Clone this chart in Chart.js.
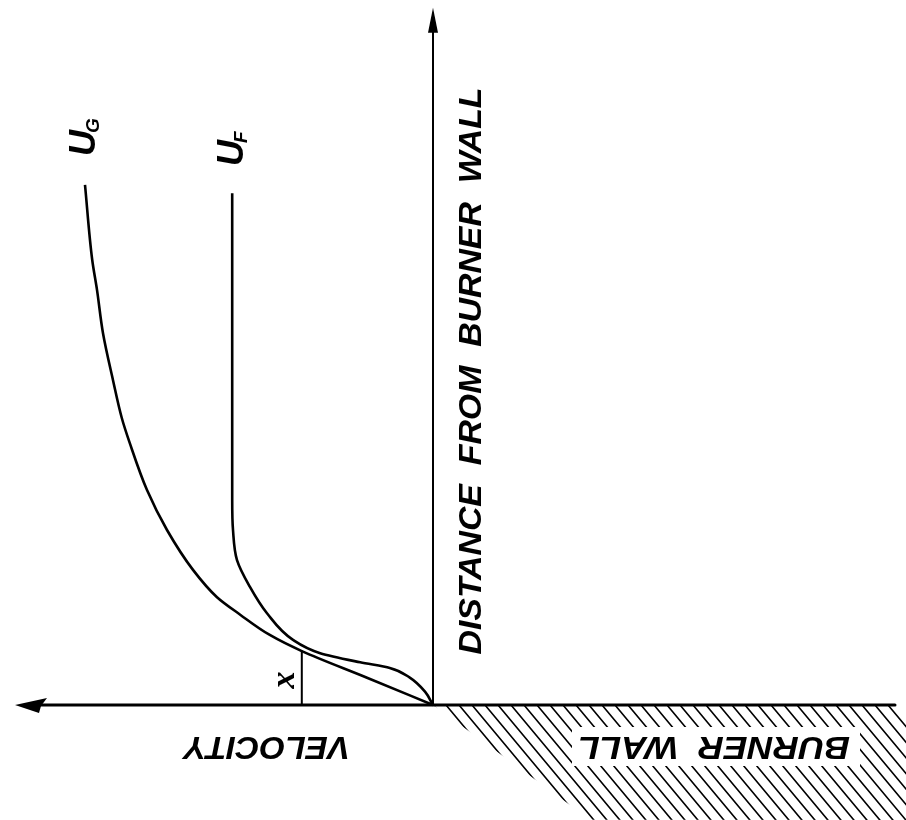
<!DOCTYPE html>
<html>
<head>
<meta charset="utf-8">
<script src="https://cdn.jsdelivr.net/npm/chart.js@4/dist/chart.umd.min.js"></script>
<style>
html, body { margin: 0; padding: 0; background: #fff; }
#wrap { width: 906px; height: 820px; }
</style>
</head>
<body>
<div id="wrap"><canvas id="c"></canvas></div>
<script>
// velocity is measured to the left of the wall, distance upward from it (arbitrary units)
var ugVel  = [8.70, 8.52, 8.40, 8.25, 8.00, 7.78, 7.58, 7.15, 6.65, 6.00, 5.40, 4.82, 4.08, 3.28, 1.65, 0];
var ugDist = [7.43, 6.36, 5.93, 5.31, 4.64, 4.10, 3.74, 3.07, 2.50, 1.93, 1.54, 1.29, 1.00, 0.77, 0.39, 0];
var ufVel  = [5.02, 5.02, 5.02, 5.00, 4.90, 4.58, 4.15, 3.50, 2.82, 1.82, 1.08, 0.58, 0.20, 0];
var ufDist = [7.31, 4.36, 2.93, 2.50, 2.07, 1.69, 1.31, 0.93, 0.74, 0.61, 0.53, 0.39, 0.19, 0];
// thickness x where the two profiles meet
var xMarkVel = 3.28, xMarkDist = 0.77;
// axis extents
var velAxisEnd = 10.45, distAxisEnd = 9.96, wallEnd = -11.55;
var wallCutVel = -3.93, wallCutDist = -1.64;

function pts(u, d) {
  var out = [];
  for (var i = 0; i < u.length; i++) out.push({ x: u[i], y: d[i] });
  return out;
}

function label(ctx, txt, x, y, ang, font, w) {
  ctx.save();
  ctx.translate(x, y);
  ctx.rotate(ang);
  ctx.font = font;
  ctx.textAlign = 'center';
  ctx.textBaseline = 'middle';
  if (w) ctx.scale(w / ctx.measureText(txt).width, 1);
  ctx.fillText(txt, 0, 0);
  ctx.restore();
}

function subLabel(ctx, main, sub, x, y) {
  ctx.save();
  ctx.translate(x, y);
  ctx.rotate(-Math.PI / 2);
  ctx.font = 'italic bold 36px "Liberation Sans"';
  ctx.textBaseline = 'alphabetic';
  ctx.fillText(main, 0, 0);
  var w = ctx.measureText(main).width;
  ctx.font = 'italic bold 19px "Liberation Sans"';
  ctx.fillText(sub, w - 3, 4);
  ctx.restore();
}

var sketch = {
  id: 'sketch',
  afterDatasetsDraw: function(chart) {
    var ctx = chart.ctx, sx = chart.scales.x, sy = chart.scales.y;
    var X = function(v) { return sx.getPixelForValue(v); };
    var Y = function(v) { return sy.getPixelForValue(v); };
    var ox = X(0), oy = Y(0);
    ctx.save();
    ctx.strokeStyle = '#000';
    ctx.fillStyle = '#000';
    ctx.lineCap = 'round';

    // burner wall hatching
    ctx.save();
    ctx.beginPath();
    ctx.moveTo(ox, oy);
    ctx.lineTo(X(wallEnd), oy);
    ctx.lineTo(chart.width, oy + 12);
    ctx.lineTo(chart.width, chart.height);
    ctx.lineTo(X(wallCutVel), Y(wallCutDist));
    ctx.closePath();
    ctx.rect(572, 727, 288, 39);
    ctx.clip('evenodd');
    ctx.lineWidth = 1.6;
    ctx.beginPath();
    for (var i = -2; i < 40; i++) {
      var x0 = ox + i * 13;
      ctx.moveTo(x0, oy);
      ctx.lineTo(x0 + 200, oy + 240);
    }
    ctx.stroke();
    ctx.restore();

    // axes
    ctx.lineWidth = 3;
    ctx.beginPath();
    ctx.moveTo(X(velAxisEnd) + 20, oy);
    ctx.lineTo(X(wallEnd), oy);
    ctx.stroke();
    ctx.lineWidth = 2;
    ctx.beginPath();
    ctx.moveTo(ox, oy);
    ctx.lineTo(ox, Y(distAxisEnd) + 18);
    ctx.stroke();

    // arrow heads
    var ax = X(velAxisEnd);
    ctx.beginPath();
    ctx.moveTo(ax, oy);
    ctx.lineTo(ax + 32, oy - 7);
    ctx.lineTo(ax + 26, oy + 1);
    ctx.lineTo(ax + 24, oy + 8);
    ctx.closePath();
    ctx.fill();
    var ay = Y(distAxisEnd);
    ctx.beginPath();
    ctx.moveTo(ox, ay);
    ctx.lineTo(ox + 5, ay + 25);
    ctx.lineTo(ox - 5, ay + 25);
    ctx.closePath();
    ctx.fill();

    // thickness marker
    ctx.lineWidth = 2;
    ctx.beginPath();
    ctx.moveTo(X(xMarkVel), oy);
    ctx.lineTo(X(xMarkVel), Y(xMarkDist));
    ctx.stroke();
    label(ctx, 'x', X(xMarkVel) - 17, Y(xMarkDist / 2) + 2, -Math.PI / 2, 'italic bold 34px "Liberation Serif"');

    // lettering
    var hand = 'italic bold 32px "Liberation Sans"';
    label(ctx, 'DISTANCE  FROM  BURNER  WALL', ox + 39, 371, -Math.PI / 2, hand, 567);
    label(ctx, 'VELOCITY', 267, 746, Math.PI, hand, 166);
    label(ctx, 'BURNER  WALL', 714, 746, Math.PI, hand, 272);
    subLabel(ctx, 'U', 'G', 95, 156);
    subLabel(ctx, 'U', 'F', 243, 166);
    ctx.restore();
  }
};

new Chart(document.getElementById('c'), {
  type: 'scatter',
  data: {
    datasets: [
      { label: 'UG', data: pts(ugVel, ugDist), showLine: true, cubicInterpolationMode: 'monotone',
        borderColor: '#000', borderWidth: 2.6, pointRadius: 0 },
      { label: 'UF', data: pts(ufVel, ufDist), showLine: true, cubicInterpolationMode: 'monotone',
        borderColor: '#000', borderWidth: 2.6, pointRadius: 0 }
    ]
  },
  options: {
    indexAxis: 'y',
    responsive: true,
    maintainAspectRatio: false,
    animation: false,
    layout: { padding: 0 },
    plugins: { legend: { display: false }, tooltip: { enabled: false } },
    scales: {
      x: { type: 'linear', reverse: true, min: -11.825, max: 10.825, display: false },
      y: { type: 'linear', min: -1.643, max: 10.071, display: false }
    }
  },
  plugins: [sketch]
});
</script>
</body>
</html>
